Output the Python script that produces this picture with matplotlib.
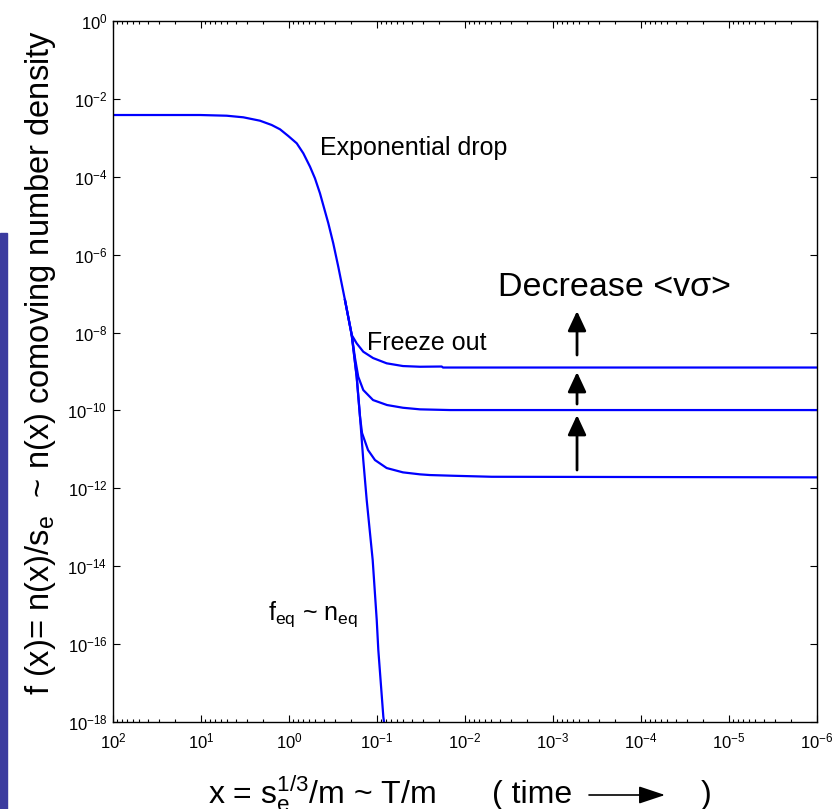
import numpy as np
import matplotlib
matplotlib.use("Agg")
import matplotlib.pyplot as plt
from matplotlib.patches import Rectangle
from matplotlib.ticker import FixedLocator, LogLocator, NullLocator, NullFormatter, FuncFormatter

plt.rcParams['font.family'] = ['Liberation Sans', 'DejaVu Sans']
plt.rcParams['mathtext.fontset'] = 'custom'
plt.rcParams['mathtext.rm'] = 'Liberation Sans'
plt.rcParams['mathtext.it'] = 'Liberation Sans:italic'
plt.rcParams['mathtext.default'] = 'regular'

# values, as log10(x) and log10(f)
eq_logx = [2.0, 1.011, 0.708, 0.519, 0.330, 0.197, 0.102, 0.008, -0.088, -0.163, -0.239,
           -0.295, -0.352, -0.447, -0.503, -0.560, -0.636, -0.713, -0.769, -0.807, -0.844,
           -0.883, -0.951, -0.997, -1.015, -1.072, -1.091]
eq_logy = [-2.414, -2.414, -2.432, -2.473, -2.560, -2.670, -2.781, -2.953, -3.141, -3.398, -3.742,
           -4.040, -4.425, -5.195, -5.709, -6.310, -7.165, -8.064, -9.135, -10.162, -11.274,
           -12.301, -13.842, -15.383, -16.153, -17.866, -18.2]

fo1_logx = [-0.636, -0.713, -0.769, -0.844, -0.955, -1.110, -1.295, -1.489, -1.735, -1.750, -6.0]
fo1_logy = [-7.165, -8.064, -8.277, -8.492, -8.654, -8.790, -8.860, -8.878, -8.872, -8.898, -8.898]

fo2_logx = [-0.636, -0.713, -0.750, -0.787, -0.844, -0.955, -1.114, -1.295, -1.489, -1.830, -6.0]
fo2_logy = [-7.165, -8.064, -8.654, -9.135, -9.476, -9.733, -9.861, -9.931, -9.972, -9.990, -9.990]

fo3_logx = [-0.713, -0.769, -0.807, -0.830, -0.898, -0.977, -1.110, -1.295, -1.489, -1.602, -1.864, -2.303, -6.0]
fo3_logy = [-8.064, -9.135, -10.162, -10.580, -11.017, -11.274, -11.479, -11.590, -11.641, -11.659, -11.677, -11.703, -11.718]

# arrows: x position and (start, end) in log10(f)
arrow_logx = -3.273
arrow_spans = [(-8.577, -7.447), (-9.836, -9.014), (-11.530, -10.118)]

xticks = [1e2, 1e1, 1e0, 1e-1, 1e-2, 1e-3, 1e-4, 1e-5, 1e-6]
yticks = [10.0 ** k for k in range(-18, 1, 2)]

fig = plt.figure(figsize=(8.38, 8.09), dpi=100)
ax = fig.add_axes([113 / 838, 1 - 722 / 809, 704 / 838, 701 / 809])

# blue strip at the left edge
fig.patches.append(Rectangle((0, 0), 7 / 838, (809 - 233) / 809,
                             transform=fig.transFigure, color='#3b3b9f'))

blue = '#0000ff'
for lx, ly in [(eq_logx, eq_logy), (fo1_logx, fo1_logy), (fo2_logx, fo2_logy), (fo3_logx, fo3_logy)]:
    ax.plot(10.0 ** np.array(lx), 10.0 ** np.array(ly), color=blue, lw=1.6)

for y0, y1 in arrow_spans:
    ax.annotate('', xy=(10 ** arrow_logx, 10 ** y1), xytext=(10 ** arrow_logx, 10 ** y0),
                arrowprops=dict(arrowstyle='-|>,head_length=0.75,head_width=0.35',
                                mutation_scale=16, lw=2, color='black', shrinkA=0, shrinkB=0))

ax.set_xscale('log')
ax.set_yscale('log')
ax.set_xlim(1e2, 1e-6)
ax.set_ylim(1e-18, 1e0)

fmt = FuncFormatter(lambda v, p: r'$10^{%d}$' % int(round(np.log10(v))))
ax.xaxis.set_major_locator(FixedLocator(xticks))
ax.xaxis.set_minor_locator(LogLocator(base=10, subs=range(2, 10)))
ax.xaxis.set_minor_formatter(NullFormatter())
ax.xaxis.set_major_formatter(fmt)
ax.yaxis.set_major_locator(FixedLocator(yticks))
ax.yaxis.set_minor_locator(NullLocator())
ax.yaxis.set_major_formatter(fmt)
ax.tick_params(which='both', direction='in', top=True, right=True, width=0.8, labelsize=12)
ax.tick_params(which='major', length=5)
ax.tick_params(which='minor', length=2.5)
ax.tick_params(axis='x', pad=7)
ax.tick_params(axis='y', pad=4)
for s in ax.spines.values():
    s.set_linewidth(1.0)

ax.text(10 ** -0.352, 10 ** -3.441, 'Exponential drop', fontsize=18, va='baseline')
ax.text(10 ** -0.883, 10 ** -8.449, 'Freeze out', fontsize=18, va='baseline')
ax.text(10 ** -2.375, 10 ** -7.062, 'Decrease <v\u03c3>', fontsize=24.5, va='baseline')
ax.text(10 ** 0.239, 10 ** -15.38, r'f$_{eq}$ ~ n$_{eq}$', fontsize=18, va='baseline')

fig.text(0.048, 0.5525, r'f (x)= n(x)/s$_e$  ~ n(x) comoving number density',
         rotation=90, fontsize=23.5, ha='center', va='center')

# x label in pieces, with a drawn arrow for the time direction
base_y = 1 - 803 / 809
fig.text(208 / 838, base_y, r'x = s$_e^{1/3}$/m ~ T/m', fontsize=23, ha='left', va='baseline')
fig.text(492 / 838, base_y, '( time', fontsize=23, ha='left', va='baseline')
fig.text(701 / 838, base_y, ')', fontsize=23, ha='left', va='baseline')
ax.annotate('', xy=(665 / 838, 1 - 795 / 809), xytext=(589 / 838, 1 - 795 / 809),
            xycoords='figure fraction', textcoords='figure fraction',
            arrowprops=dict(arrowstyle='-|>,head_length=0.9,head_width=0.3',
                            mutation_scale=18, lw=1.2, color='black', shrinkA=0, shrinkB=0),
            annotation_clip=False)

fig.savefig('out.png', dpi=100)
